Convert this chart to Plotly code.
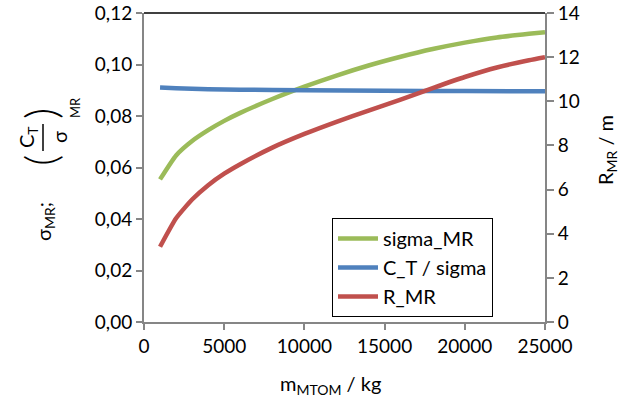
import plotly.graph_objects as go

# ---- data ----
m_sigma = [1000, 2000, 3000, 4000, 5000, 6000, 8000, 10000, 12000, 14000,
           16000, 18000, 20000, 22000, 24000, 25000]
sigma_MR = [0.0554, 0.0647, 0.0703, 0.0745, 0.0781, 0.0812, 0.0866, 0.0914,
            0.0957, 0.0996, 0.1030, 0.1060, 0.1085, 0.1105, 0.1119, 0.1125]

m_ct = [1000, 2000, 3000, 4000, 6000, 10000, 15000, 20000, 25000]
ct_sigma = [0.0911, 0.0908, 0.0906, 0.0904, 0.0902, 0.0900, 0.0898, 0.0897, 0.0896]

m_r = [1000, 2000, 3000, 4000, 5000, 6000, 8000, 10000, 12000, 14000,
       16000, 18000, 20000, 22000, 24000, 25000]
R_MR = [3.41, 4.70, 5.55, 6.20, 6.72, 7.15, 7.90, 8.52, 9.07, 9.58,
        10.08, 10.60, 11.10, 11.53, 11.86, 12.00]

x_ticks = [0, 5000, 10000, 15000, 20000, 25000]
left_ticks = [0, 0.02, 0.04, 0.06, 0.08, 0.10, 0.12]
right_ticks = [0, 2, 4, 6, 8, 10, 12, 14]

GREEN = "#9BBB59"
BLUE = "#4F81BD"
RED = "#C0504D"
AXIS = "#868686"
FONT = "Lato"

W, H = 630, 403
L, R, T, B = 144, 85, 13, 81
pw, ph = W - L - R, H - T - B


def px(x):
    return (x - L) / pw


def py(y):
    return (H - B - y) / ph


fig = go.Figure()
fig.add_trace(go.Scatter(x=m_sigma, y=sigma_MR, name="sigma_MR", mode="lines",
                         line=dict(color=GREEN, width=4.5, shape="spline", smoothing=0.5)))
fig.add_trace(go.Scatter(x=m_ct, y=ct_sigma, name="C_T / sigma", mode="lines",
                         line=dict(color=BLUE, width=4.5, shape="spline", smoothing=0.5)))
fig.add_trace(go.Scatter(x=m_r, y=R_MR, name="R_MR", mode="lines", yaxis="y2",
                         line=dict(color=RED, width=4.5, shape="spline", smoothing=0.5)))

tickfont = dict(family=FONT, size=19, color="#000000")
common = dict(showgrid=False, zeroline=False, showline=True, automargin=False,
              linecolor=AXIS, linewidth=2, ticks="outside", tickcolor=AXIS,
              tickwidth=2, tickfont=tickfont, ticklabeloverflow="allow")

fig.update_layout(
    width=W, height=H,
    margin=dict(l=L, r=R, t=T, b=B, autoexpand=False),
    paper_bgcolor="white", plot_bgcolor="white",
    separators=",.",
    font=dict(family=FONT, size=19, color="#000000"),
    showlegend=True,
    legend=dict(x=px(332), y=py(218), xanchor="left", yanchor="top",
                bordercolor="#000000", borderwidth=1, bgcolor="white",
                font=dict(family=FONT, size=20), tracegroupgap=0,
                itemwidth=40),
    xaxis=dict(range=[0, 25000], tickvals=x_ticks, tickformat="d", ticklen=6, **common),
    yaxis=dict(range=[0, 0.12], tickvals=left_ticks, tickformat=".2f", ticklen=6, **common),
    yaxis2=dict(range=[0, 14], tickvals=right_ticks, overlaying="y", side="right",
                ticklen=7, **common),
)

# top border of plot area
fig.add_shape(type="line", xref="paper", yref="paper", x0=0, x1=1, y0=1, y1=1,
              line=dict(color="#000000", width=1.5))


def A(x, y, text, size=20, angle=-90, weight=None):
    f = dict(family=FONT, size=size, color="#000000")
    if weight:
        f["weight"] = weight
    return dict(x=px(x), y=py(y), xref="paper", yref="paper", text=text,
                textangle=angle, showarrow=False, xanchor="center",
                yanchor="middle", font=f)


ann = [
    A(330, 384, "m<sub>MTOM</sub> / kg", angle=0),
    A(607, 150, "R<sub>MR</sub> / m"),
    A(44, 222, "σ<sub>MR</sub>;"),
    A(40, 161, "(", size=44, weight=300),
    A(40, 114, ")", size=44, weight=300),
    A(27, 137, "C<sub>T</sub>"),
    A(59, 137, "σ"),
    A(75, 108, "MR", size=13),
]
fig.update_layout(annotations=ann)
fig.add_shape(type="line", xref="paper", yref="paper",
              x0=px(43), x1=px(43), y0=py(124), y1=py(151),
              line=dict(color="#000000", width=1.5))

# remove the browser's default 8px page margin so the figure fills the window
fig.write_html("out.html", config={"displayModeBar": False},
               post_script="document.body.style.margin='0';document.body.style.overflow='hidden';")
